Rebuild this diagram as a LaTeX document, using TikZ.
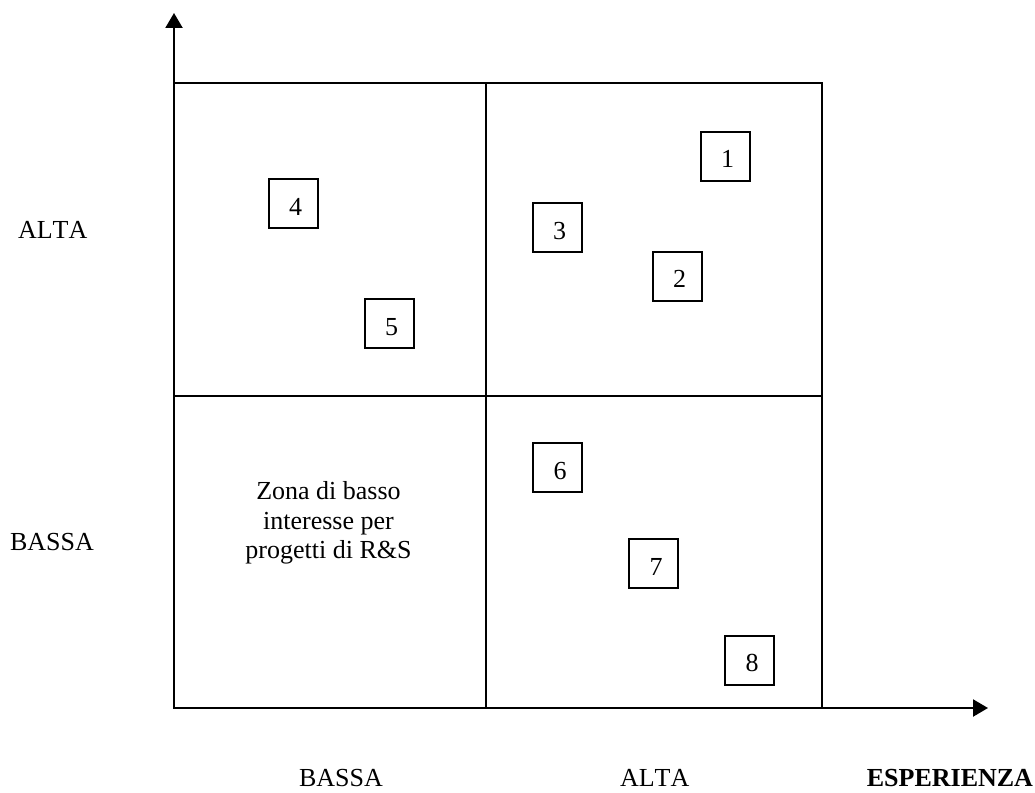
\documentclass[tikz,border=0pt]{standalone}
\usepackage{fontspec}
\setmainfont{Liberation Serif}[Kerning=Off]
\usetikzlibrary{arrows.meta}

\begin{document}
\begin{tikzpicture}[
    x=1pt, y=-1pt,
    every node/.style={inner sep=0pt, outer sep=0pt},
    txt/.style={font=\fontsize{26}{29.5}\selectfont},
    axisline/.style={line width=2.2pt, -{Triangle[length=15pt, width=17pt]}},
    gridline/.style={line width=2.2pt},
    numbox/.style={draw, line width=2pt, minimum width=49pt, minimum height=49pt,
                   text height=23pt, text depth=0pt, txt},
  ]
  \useasboundingbox (0,0) rectangle (1035,792);

  % axes
  \coordinate (origin) at (174,708);
  \coordinate (ytip) at (174,13);
  \coordinate (xtip) at (988,708);
  \draw[axisline] (origin) -- (ytip);
  \draw[axisline] (origin) -- (xtip);

  % 2x2 matrix
  \coordinate (tl) at (174,83);
  \coordinate (br) at (822,708);
  \coordinate (mt) at (486,83);
  \coordinate (mb) at (486,708);
  \coordinate (ml) at (174,396);
  \coordinate (mr) at (822,396);
  \draw[gridline] (tl) rectangle (br);
  \draw[gridline] (mt) -- (mb);
  \draw[gridline] (ml) -- (mr);

  % numbered items
  \node[numbox] (b1) at (725,156)   {\hspace*{5pt}1};
  \node[numbox] (b2) at (677,276)   {\hspace*{5pt}2};
  \node[numbox] (b3) at (557,227.5) {\hspace*{5pt}3};
  \node[numbox] (b4) at (293,203.5) {\hspace*{5pt}4};
  \node[numbox] (b5) at (389,323.5) {\hspace*{5pt}5};
  \node[numbox] (b6) at (557.5,467.5) {\hspace*{5pt}6};
  \node[numbox] (b7) at (653.5,563.5) {\hspace*{5pt}7};
  \node[numbox] (b8) at (749.5,660) {\hspace*{5pt}8};

  % quadrant note
  \node[txt, align=center] (zona) at (328.5,523)
    {Zona di basso\\interesse per\\progetti di R\&S};

  % axis labels
  \node[txt, anchor=base west] (yalta)  at (18,238)  {ALTA};
  \node[txt, anchor=base west] (ybassa) at (10,550)  {BASSA};
  \node[txt, anchor=base west] (xbassa) at (299,786) {BASSA};
  \node[txt, anchor=base west] (xalta)  at (620,786) {ALTA};
  \node[txt, anchor=base east, font=\fontsize{26}{29.5}\selectfont\bfseries] (xname) at (1033,786) {ESPERIENZA};
\end{tikzpicture}
\end{document}
